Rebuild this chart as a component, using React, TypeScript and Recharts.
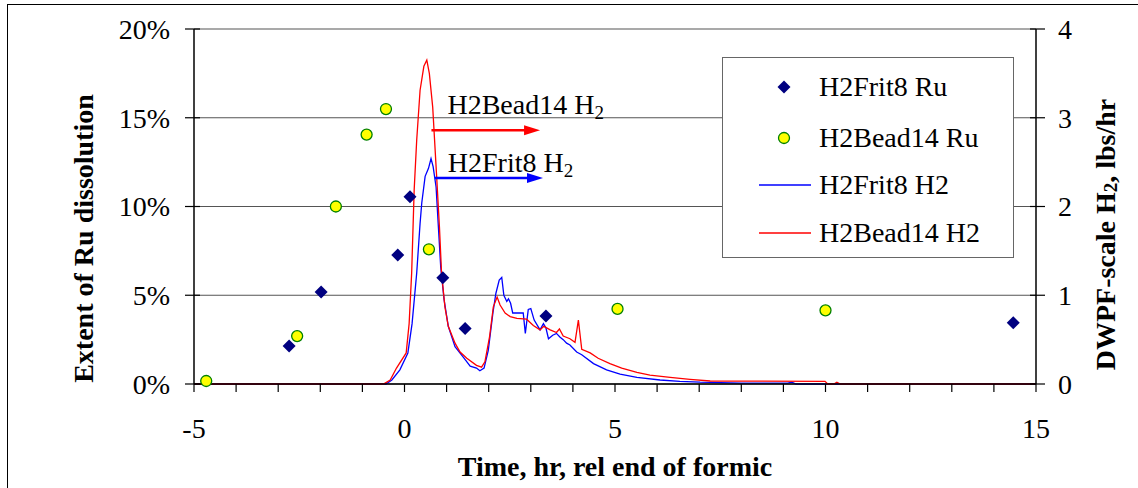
import React from "react";
import {
  CartesianGrid,
  ComposedChart,
  Line,
  ReferenceLine,
  Scatter,
  XAxis,
  YAxis,
} from "recharts";

const FONT = "'Liberation Serif', 'Times New Roman', serif";

// Ru dissolution, % (left axis)
const frit8RuTime = [-2.74, -1.98, -0.16, 0.13, 0.91, 1.44, 3.36, 14.46];
const frit8RuPct = [2.14, 5.18, 7.27, 10.55, 5.99, 3.12, 3.83, 3.45];
const bead14RuTime = [-4.71, -2.55, -1.63, -0.9, -0.44, 0.58, 5.06, 10.0];
const bead14RuPct = [0.17, 2.7, 10.0, 14.05, 15.49, 7.59, 4.23, 4.15];

// H2 generation, lbs/hr (right axis)
const frit8H2Time = [
  -5, -0.44, -0.3, -0.11, 0.08, 0.18, 0.29, 0.37, 0.41, 0.49, 0.57, 0.63, 0.68,
  0.75, 0.8, 0.86, 0.94, 1.04, 1.2, 1.4, 1.56, 1.71, 1.79, 1.89, 1.99, 2.1,
  2.17, 2.25, 2.31, 2.36, 2.43, 2.47, 2.52, 2.57, 2.82, 2.87, 2.94, 3.0, 3.08,
  3.22, 3.3, 3.36, 3.42, 3.52, 3.61, 3.69, 3.77, 3.85, 3.93, 4.09, 4.21, 4.49,
  4.8, 5.12, 5.52, 6.07, 6.54, 7.02, 8.0, 9.1, 9.2, 9.3, 15,
];
const frit8H2Rate = [
  0, 0, 0.045, 0.16, 0.35, 0.68, 1.25, 1.81, 2.04, 2.34, 2.43, 2.54, 2.45, 2.22,
  1.81, 1.32, 0.95, 0.65, 0.42, 0.3, 0.2, 0.18, 0.15, 0.18, 0.38, 0.8, 1.02,
  1.17, 1.2, 1.0, 0.93, 0.96, 0.91, 0.8, 0.8, 0.57, 0.84, 0.85, 0.72, 0.61,
  0.68, 0.63, 0.51, 0.55, 0.57, 0.53, 0.5, 0.46, 0.44, 0.36, 0.33, 0.23, 0.16,
  0.11, 0.075, 0.045, 0.03, 0.02, 0.01, 0.01, 0.02, 0, 0,
];
const bead14H2Time = [
  -5, -0.5, -0.34, -0.19, 0.04, 0.11, 0.17, 0.23, 0.29, 0.37, 0.46, 0.53, 0.59,
  0.67, 0.76, 0.83, 0.88, 0.96, 1.04, 1.2, 1.32, 1.48, 1.71, 1.83, 1.91, 2.02,
  2.11, 2.2, 2.27, 2.39, 2.51, 2.67, 2.9, 3.06, 3.22, 3.31, 3.46, 3.61, 3.68,
  3.77, 3.93, 4.05, 4.13, 4.21, 4.41, 4.6, 4.88, 5.16, 5.52, 5.83, 6.31, 6.78,
  7.26, 9.99, 10.05, 10.2, 10.27, 10.35, 15,
];
const bead14H2Rate = [
  0, 0, 0.045, 0.18, 0.35, 0.68, 1.25, 2.19, 2.75, 3.31, 3.58, 3.65, 3.5, 3.12,
  2.37, 1.77, 1.25, 0.87, 0.65, 0.46, 0.36, 0.29, 0.21, 0.19, 0.25, 0.53, 0.87,
  0.98, 0.89, 0.8, 0.76, 0.74, 0.73, 0.66, 0.61, 0.65, 0.61, 0.58, 0.62, 0.54,
  0.51, 0.47, 0.72, 0.39, 0.35, 0.29, 0.23, 0.18, 0.13, 0.1, 0.075, 0.053,
  0.034, 0.03, 0, 0, 0.02, 0, 0,
];

const xTicks = [-5, -4, -3, -2, -1, 0, 1, 2, 3, 4, 5, 6, 7, 8, 9, 10, 11, 12, 13, 14, 15];
const pctTicks = [0, 5, 10, 15, 20];
const rateTicks = [0, 1, 2, 3, 4];

const frit8Ru = frit8RuTime.map((t, i) => ({ t, pct: frit8RuPct[i] }));
const bead14Ru = bead14RuTime.map((t, i) => ({ t, pct: bead14RuPct[i] }));
const frit8H2 = frit8H2Time.map((t, i) => ({ t, v: frit8H2Rate[i] }));
const bead14H2 = bead14H2Time.map((t, i) => ({ t, v: bead14H2Rate[i] }));

const Diamond = ({ cx, cy }: any) => (
  <polygon
    points={`${cx},${cy - 6.5} ${cx + 6.5},${cy} ${cx},${cy + 6.5} ${cx - 6.5},${cy}`}
    fill="#000080"
  />
);

const YellowDot = ({ cx, cy }: any) => (
  <circle cx={cx} cy={cy} r={5.5} fill="#ffff00" stroke="#008000" strokeWidth={1.3} />
);

const LeftTick = ({ x, y, payload }: any) => (
  <g>
    <line x1={x - 9} x2={x + 6} y1={y} y2={y} stroke="#000" strokeWidth={1.2} />
    <text x={x - 24} y={y} dy="0.35em" textAnchor="end" fontFamily={FONT} fontSize={28} fill="#000">
      {payload.value}%
    </text>
  </g>
);

const RightTick = ({ x, y, payload }: any) => (
  <g>
    <line x1={x - 6} x2={x + 9} y1={y} y2={y} stroke="#000" strokeWidth={1.2} />
    <text x={x + 22} y={y} dy="0.35em" textAnchor="start" fontFamily={FONT} fontSize={28} fill="#000">
      {payload.value}
    </text>
  </g>
);

const BottomTick = ({ x, y, payload }: any) => (
  <g>
    <line x1={x} x2={x} y1={y} y2={y + 8} stroke="#000" strokeWidth={1.2} />
    {payload.value % 5 === 0 && (
      <text x={x} y={y + 54} textAnchor="middle" fontFamily={FONT} fontSize={28} fill="#000">
        {payload.value}
      </text>
    )}
  </g>
);

// arrow with a text caption above its tail
const arrowShape = (color: string, name: string, dx: number, dy: number) => (props: any) => {
  const { x1, y1, x2 } = props;
  return (
    <g>
      <line x1={x1} y1={y1} x2={x2 - 12} y2={y1} stroke={color} strokeWidth={2.5} />
      <polygon points={`${x2 - 16},${y1 - 5} ${x2},${y1} ${x2 - 16},${y1 + 5}`} fill={color} />
      <text x={x1 + dx} y={y1 + dy} fontFamily={FONT} fontSize={28} fill="#000">
        {name} H
        <tspan fontSize={19} dy={5}>2</tspan>
      </text>
    </g>
  );
};

const LeftTitle = ({ viewBox }: any) => {
  const cx = viewBox.x + 83;
  const cy = viewBox.y + viewBox.height / 2 + 32;
  return (
    <text
      x={cx}
      y={cy}
      transform={`rotate(-90, ${cx}, ${cy})`}
      textAnchor="middle"
      dominantBaseline="central"
      fontFamily={FONT}
      fontWeight="bold"
      fontSize={28}
      fill="#000"
    >
      Extent of Ru dissolution
    </text>
  );
};

const RightTitle = ({ viewBox }: any) => {
  const cx = viewBox.x + 69;
  const cy = viewBox.y + viewBox.height / 2 + 28;
  return (
    <text
      x={cx}
      y={cy}
      transform={`rotate(-90, ${cx}, ${cy})`}
      textAnchor="middle"
      dominantBaseline="central"
      fontFamily={FONT}
      fontWeight="bold"
      fontSize={28}
      fill="#000"
    >
      DWPF-scale H<tspan fontSize={19} dy={5}>2</tspan>
      <tspan dy={-5}>, lbs/hr</tspan>
    </text>
  );
};

const BottomTitle = ({ viewBox }: any) => (
  <text
    x={viewBox.x + viewBox.width / 2}
    y={viewBox.y + 92}
    textAnchor="middle"
    fontFamily={FONT}
    fontWeight="bold"
    fontSize={28}
    fill="#000"
  >
    Time, hr, rel end of formic
  </text>
);

const legendRows = [
  { label: "H2Frit8 Ru", kind: "diamond" },
  { label: "H2Bead14 Ru", kind: "dot" },
  { label: "H2Frit8 H2", kind: "blue" },
  { label: "H2Bead14 H2", kind: "red" },
];

const LegendBox = () => (
  <div
    style={{
      position: "absolute",
      left: 722,
      top: 57,
      width: 290,
      height: 199,
      background: "#fff",
      border: "1.5px solid #666",
      fontFamily: FONT,
      fontSize: 28,
    }}
  >
    {legendRows.map((r, i) => (
      <div
        key={r.label}
        style={{
          position: "absolute",
          left: 0,
          top: [29, 80, 127, 175][i] - 18,
          height: 36,
          display: "flex",
          alignItems: "center",
        }}
      >
        <svg width={96} height={36} style={{ display: "block" }}>
          {r.kind === "diamond" && <Diamond cx={61} cy={18} />}
          {r.kind === "dot" && <YellowDot cx={61} cy={18} />}
          {r.kind === "blue" && <line x1={36} x2={88} y1={18} y2={18} stroke="#0000ff" strokeWidth={1.3} />}
          {r.kind === "red" && <line x1={36} x2={88} y1={18} y2={18} stroke="#ff0000" strokeWidth={1.3} />}
        </svg>
        <span style={{ lineHeight: "36px" }}>{r.label}</span>
      </div>
    ))}
  </div>
);

export default function App() {
  return (
    <div
      style={{
        position: "absolute",
        left: 0,
        top: 0,
        width: 1138,
        height: 488,
        overflow: "hidden",
        background: "#fff",
      }}
    >
      <div
        style={{
          position: "absolute",
          left: 7,
          top: 4,
          width: 1200,
          height: 600,
          border: "1.5px solid #000",
        }}
      />
      <div style={{ position: "absolute", left: 0, top: 0 }}>
        <ComposedChart
          width={1138}
          height={488}
          margin={{ top: 29, right: 0, bottom: 0, left: 0 }}
        >
          <CartesianGrid yAxisId="left" vertical={false} stroke="#555" strokeWidth={1.2} />
          <XAxis
            dataKey="t"
            type="number"
            domain={[-5, 15]}
            ticks={xTicks}
            interval={0}
            height={104}
            tickSize={0}
            tickMargin={0}
            tick={<BottomTick />}
            axisLine={{ stroke: "#000", strokeWidth: 1.5 }}
            tickLine={false}
            label={<BottomTitle />}
            allowDataOverflow
          />
          <YAxis
            yAxisId="left"
            orientation="left"
            domain={[0, 20]}
            ticks={pctTicks}
            width={194}
            tickSize={0}
            tickMargin={0}
            tick={<LeftTick />}
            tickLine={false}
            axisLine={{ stroke: "#000", strokeWidth: 1.5 }}
            label={<LeftTitle />}
          />
          <YAxis
            yAxisId="right"
            orientation="right"
            domain={[0, 4]}
            ticks={rateTicks}
            width={102}
            tickSize={0}
            tickMargin={0}
            tick={<RightTick />}
            tickLine={false}
            axisLine={{ stroke: "#000", strokeWidth: 1.5 }}
            label={<RightTitle />}
          />
          <Scatter
            name="H2Frit8 Ru"
            data={frit8Ru}
            dataKey="pct"
            yAxisId="left"
            shape={<Diamond />}
            isAnimationActive={false}
          />
          <Scatter
            name="H2Bead14 Ru"
            data={bead14Ru}
            dataKey="pct"
            yAxisId="left"
            shape={<YellowDot />}
            isAnimationActive={false}
          />
          <Line
            name="H2Frit8 H2"
            data={frit8H2}
            dataKey="v"
            yAxisId="right"
            type="linear"
            stroke="#0000ff"
            strokeWidth={1.3}
            dot={false}
            isAnimationActive={false}
          />
          <Line
            name="H2Bead14 H2"
            data={bead14H2}
            dataKey="v"
            yAxisId="right"
            type="linear"
            stroke="#ff0000"
            strokeWidth={1.3}
            dot={false}
            isAnimationActive={false}
          />
          <ReferenceLine
            yAxisId="right"
            segment={[{ x: 0.64, y: 2.86 }, { x: 3.22, y: 2.86 }]}
            shape={arrowShape("#ff0000", "H2Bead14", 16, -16)}
          />
          <ReferenceLine
            yAxisId="right"
            segment={[{ x: 0.72, y: 2.32 }, { x: 3.29, y: 2.32 }]}
            shape={arrowShape("#0000ff", "H2Frit8", 13, -6)}
          />
        </ComposedChart>
      </div>
      <LegendBox />
    </div>
  );
}
